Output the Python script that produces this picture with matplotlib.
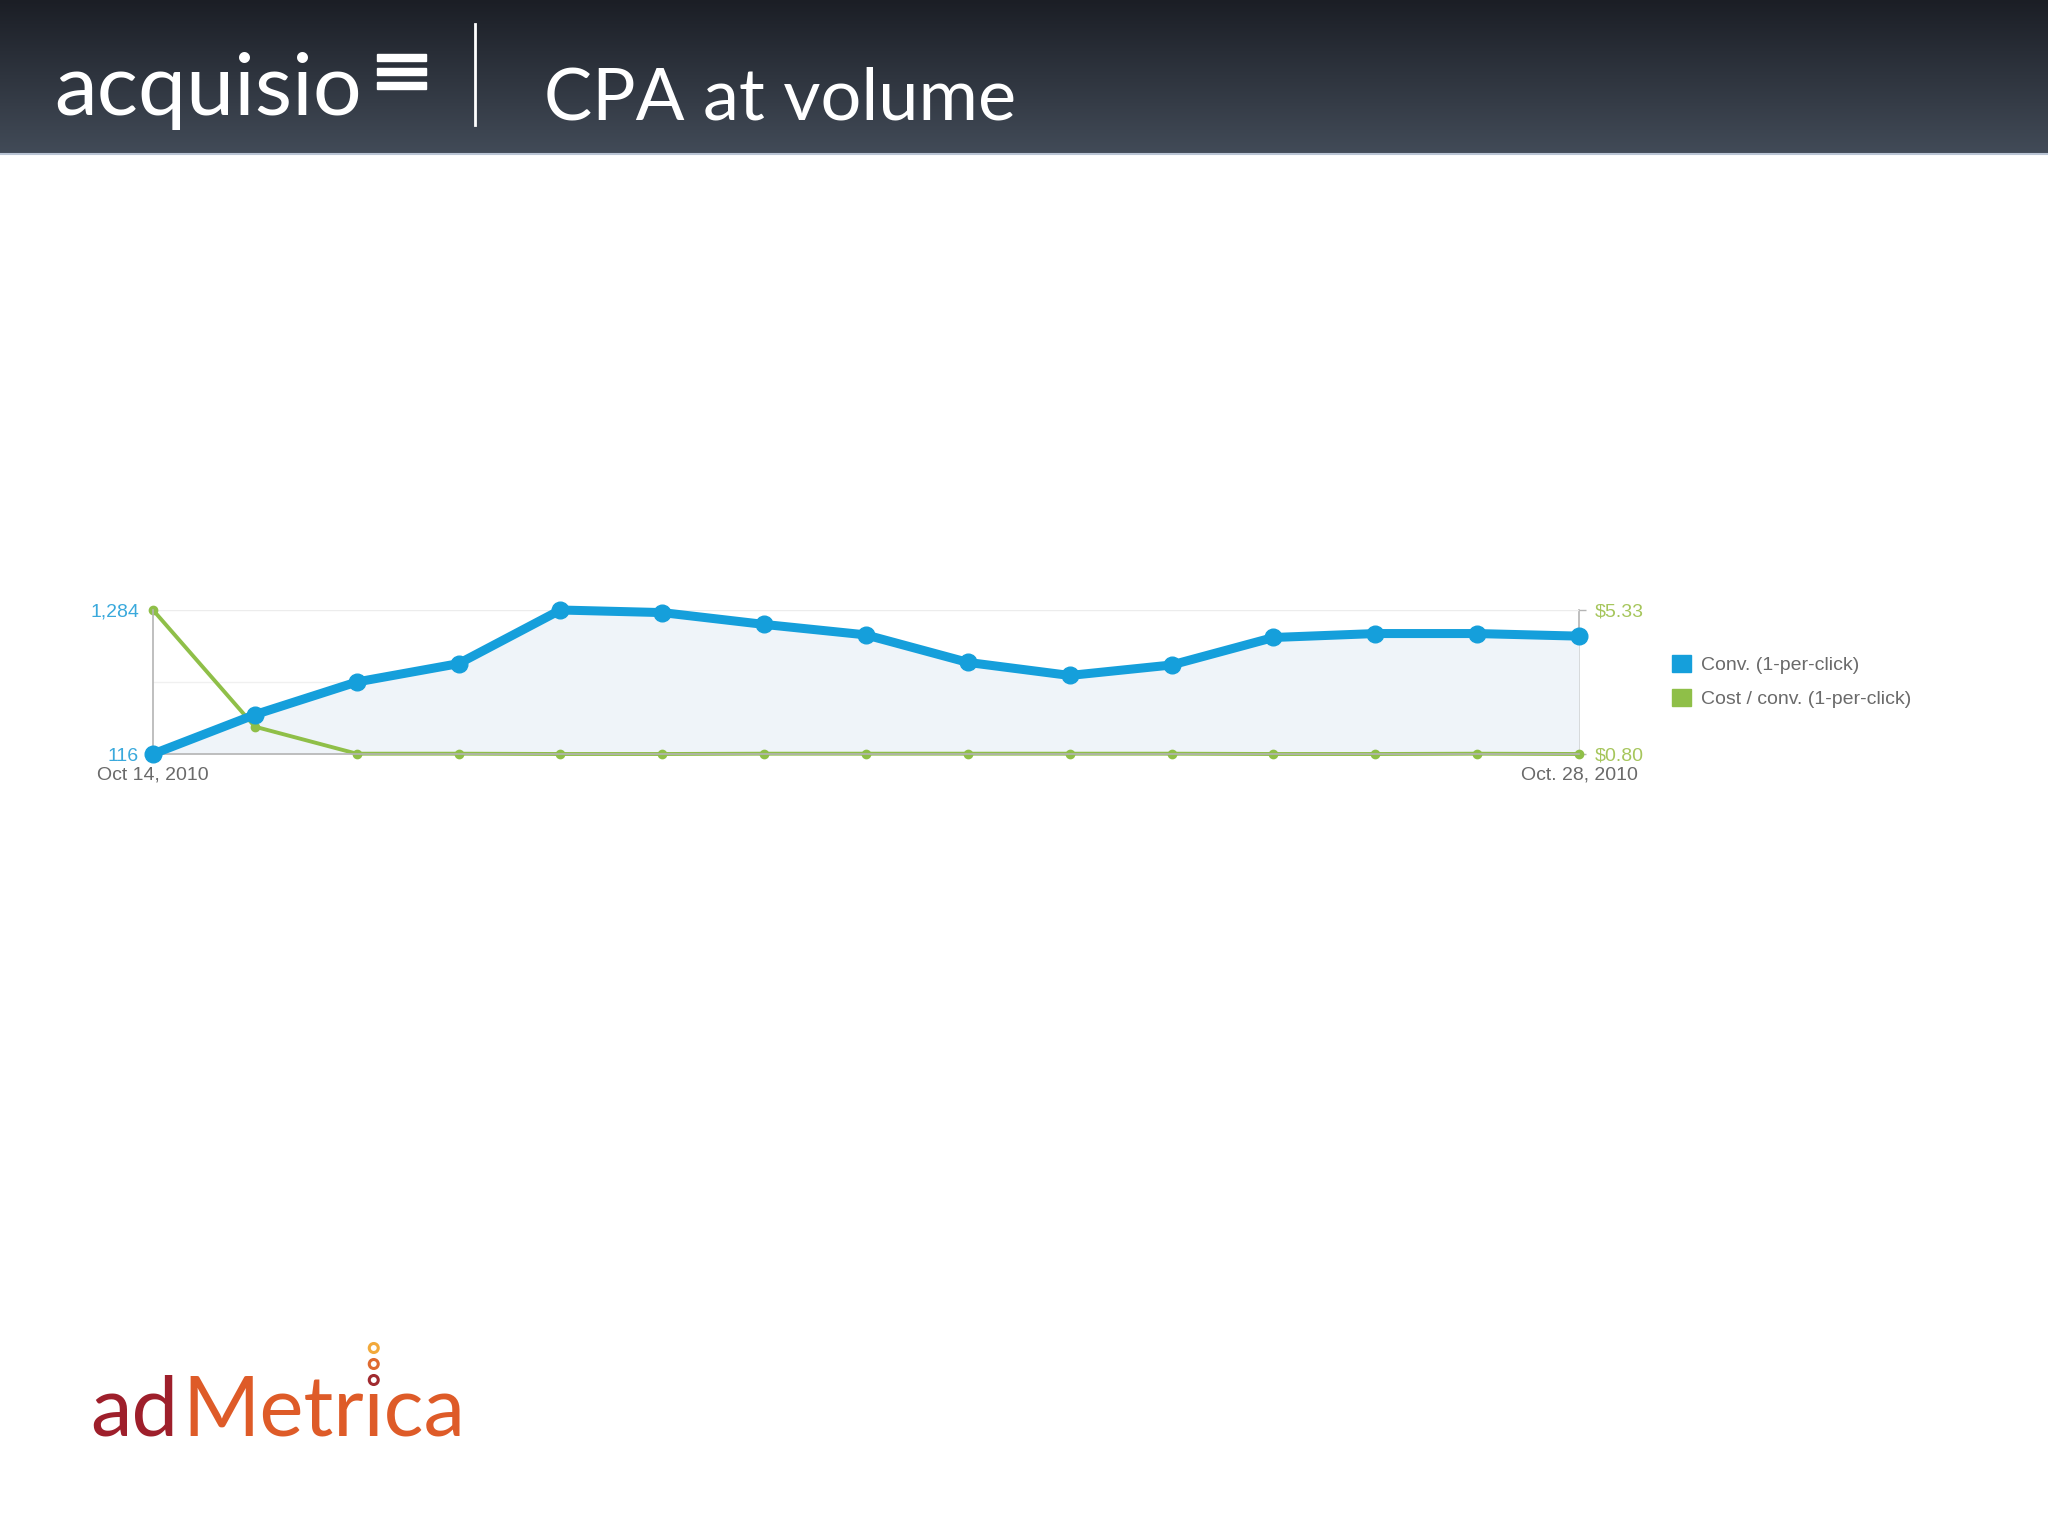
"""CPA at volume -- conversions vs cost per conversion, Oct 14-28 2010."""

import matplotlib

matplotlib.use("Agg")
import matplotlib.pyplot as plt  # noqa: E402
import numpy as np  # noqa: E402
from matplotlib.colors import LinearSegmentedColormap  # noqa: E402
from matplotlib.patches import Patch, Rectangle  # noqa: E402

W, H = 2048, 1536

DAYS = list(range(15))  # Oct 14 .. Oct 28, 2010
CONV = [116, 435, 700, 849, 1284, 1263, 1167, 1082, 859, 753, 838,
        1061, 1093, 1093, 1072]
CPA = [5.33, 1.66, 0.81, 0.81, 0.80, 0.80, 0.81, 0.81, 0.81, 0.81, 0.81,
       0.80, 0.80, 0.81, 0.80]
X_LABELS = ["Oct 14, 2010", "Oct. 28, 2010"]
SERIES = ["Conv. (1-per-click)", "Cost / conv. (1-per-click)"]

BLUE = "#159fdb"
GREEN = "#8fbf48"
BLUE_TXT = "#3aa9dc"
GREEN_TXT = "#a6c65c"
GREY_TXT = "#6a6a6a"
AXIS = "#b4b4b4"
HEAD = ["Lato", "DejaVu Sans"]
SANS = ["Liberation Sans", "DejaVu Sans"]


def main() -> None:
    fig = plt.figure(figsize=(W / 100, H / 100), dpi=100)

    # slide background / decorations in pixel coordinates
    bg = fig.add_axes([0, 0, 1, 1])
    grad = np.linspace(0, 1, 256).reshape(-1, 1)
    cmap = LinearSegmentedColormap.from_list("hdr", ["#1b1e25", "#424b58"])
    bg.imshow(grad, extent=(0, W, 154, 0), cmap=cmap, aspect="auto")
    bg.plot([0, W], [154, 154], color="#b9c4d4", lw=1.5)
    bg.set_xlim(0, W)
    bg.set_ylim(H, 0)
    bg.axis("off")

    bg.text(54, 115, "acquisio", color="white", fontsize=62,
            family=HEAD, va="baseline")
    for yc in (57, 71, 85):
        bg.add_patch(Rectangle((377, yc - 3.5), 49, 7, color="white"))
    bg.plot([475, 475], [24, 125], color="white", lw=2)
    bg.text(544, 120, "CPA at volume", color="white", fontsize=52,
            family=HEAD, va="baseline")

    # adMetrica logo; the dotless i gets three rings instead of a dot
    rend = fig.canvas.get_renderer()
    logo = dict(fontsize=60, family=["Lato"], va="baseline")
    ad = bg.text(90, 1435, "ad", color="#9e1f2b", **logo)
    m_x = ad.get_window_extent(rend).x1 + 4
    bg.text(m_x, 1435, "Metrıca", color="#de5b28", **logo)
    probe = bg.text(m_x, 1435, "Metr", alpha=0, **logo)
    probe_i = bg.text(m_x, 1435, "Metrı", alpha=0, **logo)
    i_x = (probe.get_window_extent(rend).x1
           + probe_i.get_window_extent(rend).x1) / 2
    bg.scatter([i_x] * 3, [1348, 1364, 1380], s=42, facecolor="white",
               edgecolor=["#f2a93b", "#df6a30", "#a02a2f"], lw=2.2, zorder=5)

    # chart
    ax = fig.add_axes([153 / W, 1 - 754 / H, 1426 / W, 144 / H])
    ax.patch.set_visible(False)
    ax2 = ax.twinx()
    ax2.set_ylim(0.80, 5.33)
    ax.set_zorder(ax2.get_zorder() + 1)

    ax.axhline(1284, color="#ececec", lw=1, zorder=0)
    ax.axhline(700, color="#f0f0f0", lw=1, zorder=0)
    ax.fill_between(DAYS, CONV, 116, color="#eff4f9", lw=0, zorder=1)
    ax.plot(DAYS, CPA, color=GREEN, lw=2.8, marker="o", ms=6,
            transform=ax2.transData, clip_on=False, zorder=2)
    ax.plot(DAYS, CONV, color=BLUE, lw=6.5, marker="o", ms=12,
            solid_joinstyle="round", clip_on=False, zorder=3)

    ax.set_xlim(0, 14)
    ax.set_ylim(116, 1284)
    ax.set_yticks([116, 1284], labels=["116", "1,284"])
    ax.set_xticks([0, 14], labels=X_LABELS)
    ax.tick_params(axis="y", length=0, pad=10, labelcolor=BLUE_TXT,
                   labelsize=14)
    ax.tick_params(axis="x", length=0, pad=9, labelcolor=GREY_TXT,
                   labelsize=14)
    ax2.set_yticks([0.80, 5.33], labels=["$0.80", "$5.33"])
    ax2.tick_params(axis="y", length=5, width=1, color=AXIS, pad=6,
                    labelcolor=GREEN_TXT, labelsize=14)
    for a in (ax, ax2):
        for lbl in a.get_xticklabels() + a.get_yticklabels():
            lbl.set_family(SANS)
    for side in ("top", "right"):
        ax.spines[side].set_visible(False)
    for side in ("top", "left", "bottom"):
        ax2.spines[side].set_visible(False)
    for sp in (ax.spines["left"], ax.spines["bottom"], ax2.spines["right"]):
        sp.set_color(AXIS)
        sp.set_linewidth(1.2)

    handles = [Patch(color=BLUE, label=SERIES[0]),
               Patch(color=GREEN, label=SERIES[1])]
    ax.legend(handles=handles, loc="upper left",
              bbox_to_anchor=(1662 / W, 1 - 645 / H),
              bbox_transform=fig.transFigure, frameon=False,
              handlelength=1.0, handleheight=1.0, handletextpad=0.5,
              labelspacing=0.75, borderpad=0, labelcolor=GREY_TXT,
              prop={"family": SANS, "size": 14})

    fig.savefig("out.png", dpi=100)


if __name__ == "__main__":
    main()
